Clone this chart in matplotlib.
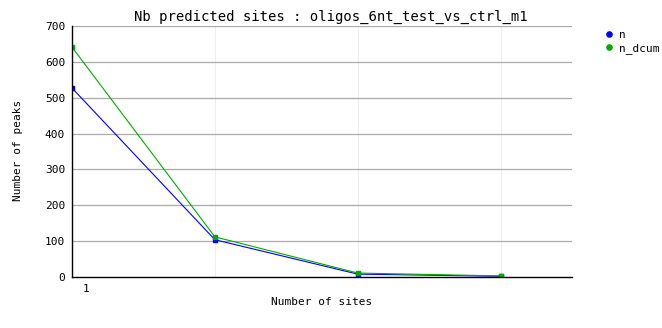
import matplotlib
matplotlib.use("Agg")
import matplotlib.pyplot as plt

sites = [1, 2, 3, 4]
n = [527, 104, 8, 2]
n_dcum = [641, 112, 11, 3]
y_ticks = [0, 100, 200, 300, 400, 500, 600, 700]

plt.rcParams['font.family'] = 'DejaVu Sans Mono'

fig = plt.figure(figsize=(6.62, 3.28), dpi=100)
ax = fig.add_axes([72 / 662, 1 - 277 / 328, 500 / 662, 251 / 328])

for x in sites[1:]:
    ax.axvline(x, color='#eeeeee', lw=0.8, zorder=0)
for y in y_ticks[1:]:
    ax.axhline(y, color='#aaaaaa', lw=0.9, zorder=0)

ax.plot(sites, n, color='#0000ff', lw=0.8, marker='s', ms=2.5, label='n')
ax.plot(sites, n_dcum, color='#00aa00', lw=0.8, marker='s', ms=2.5, label='n_dcum')

ax.set_xlim(1, 4.5)
ax.set_ylim(0, 700)
ax.set_yticks(y_ticks)
ax.set_xticks([1.1])
ax.set_xticklabels(['1'])
ax.tick_params(length=0, labelsize=8, pad=5)
for s in ['top', 'right']:
    ax.spines[s].set_visible(False)
ax.spines['left'].set_linewidth(1)
ax.spines['bottom'].set_linewidth(1)

fig.text(0.5, 1 - 17 / 328, 'Nb predicted sites : oligos_6nt_test_vs_ctrl_m1',
         ha='center', va='center', fontsize=10)
fig.text(18 / 662, 1 - 150 / 328, 'Number of peaks', rotation=90,
         ha='center', va='center', fontsize=8)
fig.text(322 / 662, 1 - 302 / 328, 'Number of sites', ha='center', va='center', fontsize=8)

ax.legend(loc='upper left', bbox_to_anchor=(600 / 662, 1 - 24 / 328),
          bbox_transform=fig.transFigure, frameon=False, fontsize=8,
          handlelength=0.6, handletextpad=0.6, labelspacing=0.3,
          markerscale=1.5, borderpad=0)
for h in ax.get_legend().legend_handles:
    h.set_linestyle('')
    h.set_marker('o')

fig.savefig('out.png', dpi=100)
